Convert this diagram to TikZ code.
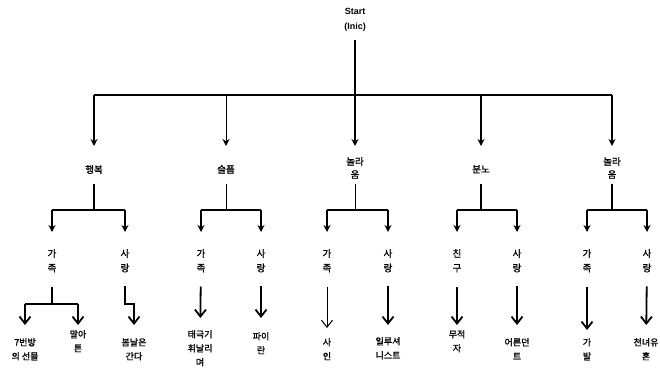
\documentclass[tikz,border=0pt]{standalone}
\usepackage{fontspec}
\newfontfamily\kr[FakeBold=1.4]{Noto Sans CJK KR}
\newfontfamily\lat{Liberation Sans}
\usetikzlibrary{arrows.meta}
\begin{document}
\begin{tikzpicture}[x=1pt,y=-1pt,
  every node/.style={inner sep=0pt, align=center, anchor=north},
  l1/.style={font=\kr\fontsize{9.5}{13}\selectfont},
  l2/.style={font=\kr\fontsize{9.5}{14.5}\selectfont},
  lf/.style={font=\kr\fontsize{9}{14}\selectfont},
  ln/.style={line width=1.8pt},
  lnthin/.style={line width=1pt},
  tip/.style={-{Stealth[length=7pt,width=7pt]}},
  vtip/.style={-{Straight Barb[length=7pt,width=11pt]}}
]
\useasboundingbox (0,0) rectangle (660,369);

% root
\node[font=\lat\bfseries\fontsize{9}{15}\selectfont] (start) at (355,8) {Start\\(Inic)};
\coordinate (j0) at (355,95);
\draw[ln,shorten <=8pt] (start) -- (j0);

% level 1
\node[l1] (hb)  at (94,165)  {행복};
\node[l1] (sp)  at (226,165) {슬픔};
\node[l1] (nra) at (355,157) {놀라\\움};
\node[l1] (bn)  at (481,165) {분노};
\node[l1] (nrb) at (612,157) {놀라\\움};

\draw[ln] (hb |- j0) -- (nrb |- j0);
\draw[ln,tip,shorten >=19pt] (hb |- j0) -- (hb);
\draw[lnthin,tip,shorten >=19pt] (sp |- j0) -- (sp);
\draw[ln,tip,shorten >=11pt] (nra |- j0) -- (nra);
\draw[ln,tip,shorten >=19pt] (bn |- j0) -- (bn);
\draw[ln,tip,shorten >=11pt] (nrb |- j0) -- (nrb);

% level 2
\coordinate (k0) at (0,210);
\node[l2] (hbf) at (52,249)  {가\\족};
\node[l2] (hbl) at (125,249) {사\\랑};
\node[l2] (spf) at (201,249) {가\\족};
\node[l2] (spl) at (261,249) {사\\랑};
\node[l2] (naf) at (327,249) {가\\족};
\node[l2] (nal) at (388,249) {사\\랑};
\node[l2] (bnf) at (457,249) {친\\구};
\node[l2] (bnl) at (517,249) {사\\랑};
\node[l2] (nbf) at (587,249) {가\\족};
\node[l2] (nbl) at (647,249) {사\\랑};

\draw[ln,shorten <=10pt] (hb) -- (hb |- k0);
\draw[lnthin,shorten <=10pt] (sp) -- (sp |- k0);
\draw[lnthin,shorten <=5pt] (nra) -- (nra |- k0);
\draw[ln,shorten <=10pt] (bn) -- (bn |- k0);
\draw[ln,shorten <=5pt] (nrb) -- (nrb |- k0);

\foreach \a/\b in {hbf/hbl,spf/spl,naf/nal,bnf/bnl,nbf/nbl}{
  \draw[ln] (\a |- k0) -- (\b |- k0);
  \draw[ln,tip,shorten >=17pt] (\a |- k0) -- (\a);
  \draw[ln,tip,shorten >=17pt] (\b |- k0) -- (\b);
}

% leaves
\node[lf] (lf1)  at (25,338)  {7번방\\의 선물};
\node[lf] (lf2)  at (78,330)  {말아\\톤};
\node[lf] (lf3)  at (134,338) {봄날은\\간다};
\node[lf] (lf4)  at (200,330) {태극기\\휘날리\\며};
\node[lf] (lf5)  at (261,332) {파이\\란};
\node[lf] (lf6)  at (327,338) {사\\인};
\node[lf] (lf7)  at (388,337) {일루셔\\니스트};
\node[lf] (lf8)  at (457,330) {무적\\자};
\node[lf] (lf9)  at (517,338) {어른던\\트};
\node[lf] (lf10) at (587,338) {가\\발};
\node[lf] (lf11) at (646,338) {천녀유\\혼};

\coordinate (m0) at (0,304);
% 행복 / 가족 branch
\draw[ln,shorten <=14pt] (hbf) -- (hbf |- m0);
\draw[ln] (lf1 |- m0) -- (lf2 |- m0);
\draw[ln,vtip,shorten >=13pt] (lf1 |- m0) -- (lf1);
\draw[ln,vtip,shorten >=5pt] (lf2 |- m0) -- (lf2);
% 행복 / 사랑 branch (jog)
\draw[ln,vtip,shorten <=14pt,shorten >=13pt] (hbl) -- (hbl |- m0) -| (lf3);

\draw[ln,vtip,shorten <=14pt,shorten >=12pt] (spf) -- (lf4);
\draw[ln,vtip,shorten <=14pt,shorten >=14pt] (spl) -- (lf5);
\draw[lnthin,vtip,shorten <=14pt,shorten >=10pt] (naf) -- (lf6);
\draw[ln,vtip,shorten <=14pt,shorten >=12pt] (nal) -- (lf7);
\draw[ln,vtip,shorten <=14pt,shorten >=5pt] (bnf) -- (lf8);
\draw[ln,vtip,shorten <=14pt,shorten >=13pt] (bnl) -- (lf9);
\draw[ln,vtip,shorten <=14pt,shorten >=8pt] (nbf) -- (lf10);
\draw[ln,vtip,shorten <=14pt,shorten >=13pt] (nbl) -- (lf11);
\end{tikzpicture}
\end{document}
